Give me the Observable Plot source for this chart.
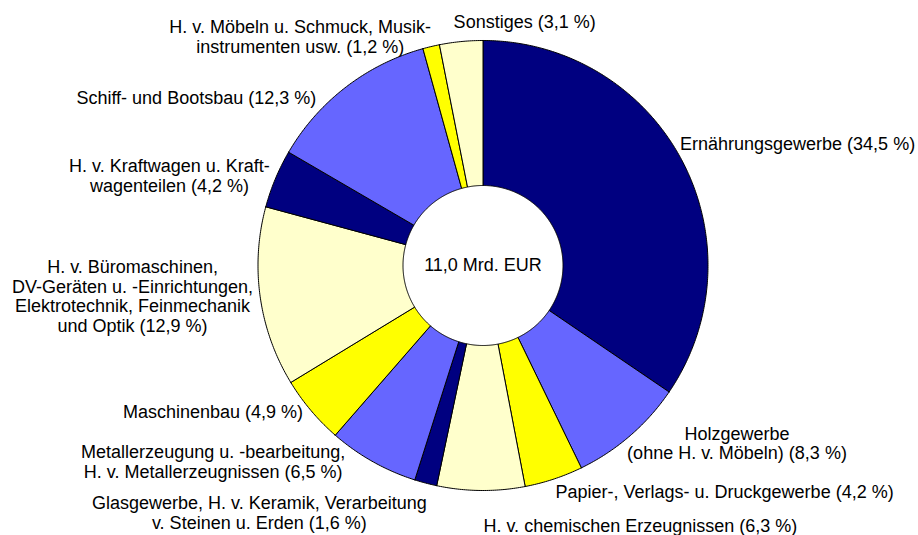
<!DOCTYPE html>
<html>
<head>
<meta charset="utf-8">
<script src="https://cdn.jsdelivr.net/npm/d3@7"></script>
<script src="https://cdn.jsdelivr.net/npm/@observablehq/plot@0.6"></script>
<style>
  html, body { margin: 0; padding: 0; background: #fff; }
  #chart svg { display: block; }
</style>
</head>
<body>
<div id="chart"></div>
<script>
// ---- data (clockwise from 12 o'clock) ----
const categories = [
  "Ernährungsgewerbe",
  "Holzgewerbe\n(ohne H. v. Möbeln)",
  "Papier-, Verlags- u. Druckgewerbe",
  "H. v. chemischen Erzeugnissen",
  "Glasgewerbe, H. v. Keramik, Verarbeitung\nv. Steinen u. Erden",
  "Metallerzeugung u. -bearbeitung,\nH. v. Metallerzeugnissen",
  "Maschinenbau",
  "H. v. Büromaschinen,\nDV-Geräten u. -Einrichtungen,\nElektrotechnik, Feinmechanik\nund Optik",
  "H. v. Kraftwagen u. Kraft-\nwagenteilen",
  "Schiff- und Bootsbau",
  "H. v. Möbeln u. Schmuck, Musik-\ninstrumenten usw.",
  "Sonstiges"
];
const shares = [34.5, 8.3, 4.2, 6.3, 1.6, 6.5, 4.9, 12.9, 4.2, 12.3, 1.2, 3.1];
const totalLabel = "11,0 Mrd. EUR";

// ---- styles / layout ----
const palette = ["#000080", "#6666FF", "#FFFF00", "#FFFFCC"];
const sliceColors = shares.map((_, i) => palette[i % 4]);
// label offsets in pixels from an anchor on each slice's mid-angle
const labelNudge = [
  [66, 10], [70, -35], [153, -41], [160, -21], [-152, -25], [-132, -49],
  [-55, -35], [-72, -9], [-54, 19], [-115, 55], [-118, 45], [69, 36]
];

const W = 918, H = 535, cx = 482.5, cy = 265, R = 225;
const innerRatio = 80 / R;
const labelRadius = 1.25;

const fmt = v => v.toFixed(1).replace(".", ",");
const arcs = d3.pie().sort(null).value(d => d)(shares);

// slice polygons (annular sectors) in radius units
const pts = [];
arcs.forEach((a, i) => {
  const n = Math.max(4, Math.ceil((a.endAngle - a.startAngle) / (Math.PI / 360)));
  const ring = [];
  for (let k = 0; k <= n; k++) {
    const t = a.startAngle + (a.endAngle - a.startAngle) * k / n;
    ring.push([Math.sin(t), Math.cos(t)]);
  }
  for (let k = n; k >= 0; k--) {
    const t = a.startAngle + (a.endAngle - a.startAngle) * k / n;
    ring.push([innerRatio * Math.sin(t), innerRatio * Math.cos(t)]);
  }
  ring.push(ring[0]);
  ring.forEach(([x, y]) => pts.push({slice: i, x, y, color: sliceColors[i]}));
});

const labels = arcs.map((a, i) => {
  const m = (a.startAngle + a.endAngle) / 2;
  return {
    x: labelRadius * Math.sin(m) + labelNudge[i][0] / R,
    y: labelRadius * Math.cos(m) - labelNudge[i][1] / R,
    text: `${categories[i]} (${fmt(shares[i])} %)`
  };
});

const chart = Plot.plot({
  width: W,
  height: H,
  margin: 0,
  x: {domain: [-cx / R, (W - cx) / R], axis: null},
  y: {domain: [-(H - cy) / R, cy / R], axis: null},
  color: {type: "identity"},
  style: {fontFamily: "'Liberation Sans', Arial, Helvetica, sans-serif", background: "#fff", color: "#000"},
  marks: [
    Plot.line(pts, {x: "x", y: "y", z: "slice", fill: "color", stroke: "#000", strokeWidth: 1, curve: "linear"}),
    Plot.text([totalLabel], {x: () => 0, y: () => 0, text: d => d, fontSize: 18, fill: "#000"}),
    Plot.text(labels, {x: "x", y: "y", text: "text", fontSize: 18, lineHeight: 1.1, textAnchor: "middle", fill: "#000"})
  ]
});
document.getElementById("chart").appendChild(chart);
</script>
</body>
</html>
